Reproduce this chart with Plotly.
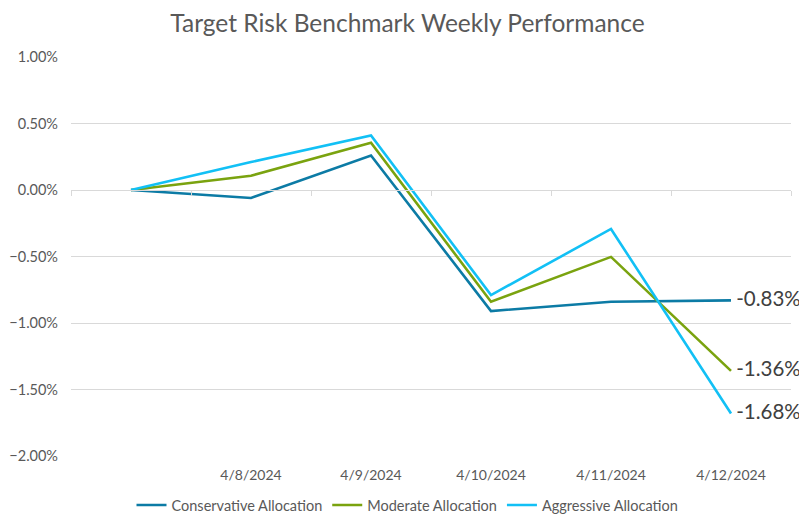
import plotly.graph_objects as go

x_labels = ["", "4/8/2024", "4/9/2024", "4/10/2024", "4/11/2024", "4/12/2024"]
conservative = [0.0, -0.0006, 0.0026, -0.0091, -0.0084, -0.0083]
moderate = [0.0, 0.00107, 0.00355, -0.0084, -0.00503, -0.0136]
aggressive = [0.0, 0.0021, 0.0041, -0.0079, -0.00293, -0.0168]
y_ticks = [0.01, 0.005, 0.0, -0.005, -0.01, -0.015, -0.02]

series = [
    ("Conservative Allocation", conservative, "#0C7BA5"),
    ("Moderate Allocation", moderate, "#7AA30F"),
    ("Aggressive Allocation", aggressive, "#12C0F5"),
]

FONT = "Lato"
W, H = 799, 514  # page body has an 8px margin
xs = list(range(len(x_labels)))
fig = go.Figure()
for name, vals, color in series:
    text = [""] * (len(vals) - 1) + [f" {vals[-1]*100:.2f}%"]
    fig.add_trace(go.Scatter(
        x=xs, y=vals, name=name, mode="lines+text",
        line=dict(color=color, width=2.6),
        text=text, textposition="middle right",
        textfont=dict(family=FONT, size=20.5, color="#404040"),
        cliponaxis=False,
    ))

# invisible trace carrying the zero-line axis with boundary ticks
fig.add_trace(go.Scatter(x=xs, y=[0] * len(xs), xaxis="x2", mode="lines",
                         line=dict(width=0), showlegend=False, hoverinfo="skip"))

yr = [-0.02, 0.01]
zero_pos = (0 - yr[0]) / (yr[1] - yr[0])
boundaries = [i - 0.5 for i in range(len(xs) + 1)]

fig.update_layout(
    width=W, height=H,
    margin=dict(l=63, r=16, t=49, b=66, autoexpand=False),
    paper_bgcolor="white", plot_bgcolor="white",
    title=dict(text="Target Risk Benchmark Weekly Performance", x=0.5, xanchor="center",
               yref="container", y=1 - 15.5 / H, yanchor="middle",
               font=dict(family=FONT, size=24.5, color="#595959")),
    xaxis=dict(range=[-0.5, len(xs) - 0.5], tickvals=xs, ticktext=x_labels,
               showgrid=False, zeroline=False, showline=False, ticks="",
               tickfont=dict(family=FONT, size=14, color="#595959"),
               ticklabelstandoff=9, automargin=False),
    xaxis2=dict(overlaying="x", anchor="free", position=zero_pos,
                range=[-0.5, len(xs) - 0.5], tickvals=boundaries,
                showticklabels=False, ticks="outside", ticklen=5, tickcolor="#D9D9D9",
                tickwidth=1, showline=True, linecolor="#D9D9D9", linewidth=1,
                showgrid=False, zeroline=False, automargin=False),
    yaxis=dict(range=yr, tickvals=y_ticks, tickformat=".2%",
               showgrid=True, gridcolor="#D9D9D9", gridwidth=1, zeroline=False,
               tickfont=dict(family=FONT, size=14.5, color="#595959"),
               ticklabelstandoff=12, automargin=False),
    legend=dict(orientation="h", xref="container", x=0.5, xanchor="center",
                yref="container", y=17 / H, yanchor="middle",
                font=dict(family=FONT, size=14.5, color="#595959"),
                itemwidth=30, tracegroupgap=0),
    showlegend=True,
)

fig.write_html("out.html")
